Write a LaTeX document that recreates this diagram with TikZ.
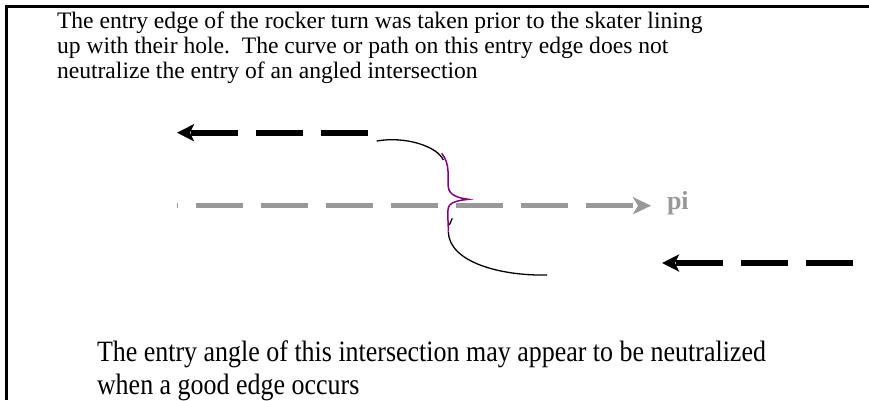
\documentclass[tikz,border=0pt]{standalone}
\usepackage{fontspec}
\setmainfont{Liberation Serif}
\newfontfamily\tallserif[FakeStretch=0.88]{Liberation Serif}
\usetikzlibrary{arrows.meta}
\definecolor{pigray}{HTML}{999999}
\definecolor{turnpurple}{HTML}{800080}

\begin{document}
\begin{tikzpicture}[x=1pt, y=-1pt,
  every node/.style={inner sep=0pt, outer sep=0pt},
  frame/.style={line width=3pt},
  edgearr/.style={line width=6pt, dash pattern=on 47pt off 18pt,
                  -{Stealth[length=17pt, width=17pt, inset=4pt]}},
  piarr/.style={line width=5pt, draw=pigray, dash pattern=on 47.5pt off 17.5pt,
                dash phase=46.5pt, -{Stealth[length=18pt, width=17pt, inset=5pt]}},
  trace/.style={line width=1.3pt},
  wiggle/.style={line width=1.5pt, draw=turnpurple},
  note/.style={align=left, font=\fontsize{23.6pt}{25pt}\selectfont},
  bignote/.style={align=left, font=\tallserif\fontsize{29.5pt}{33pt}\selectfont},
]
  \useasboundingbox (0,0) rectangle (869,400);
  % frame
  \draw[frame] (6.2,400) -- (6.2,6.2) -- (869,6.2);

  % texts
  \node[note, anchor=north west] (top) at (57,12)
    {The entry edge of the rocker turn was taken prior to the skater lining\\
     up with their hole.\ \ The curve or path on this entry edge does not\\
     neutralize the entry of an angled intersection};
  \node[bignote, anchor=north west] (bottom) at (97,341)
    {The entry angle of this intersection may appear to be neutralized\\
     when a good edge occurs};

  % edges
  \coordinate (e1s) at (368,132.7);
  \coordinate (e1t) at (177,132.7);
  \coordinate (e2s) at (853,263);
  \coordinate (e2t) at (662,263);
  \draw[edgearr] (e1s) -- (e1t);
  \draw[edgearr] (e2s) -- (e2t);

  % pi line
  \coordinate (pis) at (177,205.7);
  \coordinate (pit) at (651,205.7);
  \draw[piarr] (pis) -- (pit);
  \node[anchor=base west, text=pigray, font=\fontsize{26pt}{26pt}\selectfont\bfseries]
    (pi) at (667,209) {pi};

  % turn
  \coordinate (c1) at (376.7,141);
  \coordinate (c2) at (443.3,160);
  \coordinate (c3) at (448.3,231.7);
  \coordinate (c4) at (547,275);
  \draw[trace] (c1) .. controls (405,136) and (437,146) .. (c2);
  \draw[trace] (452.3,218.3) -- (449.3,225);
  \draw[trace] (c3) .. controls (449,262) and (500,276) .. (c4);
  \draw[wiggle] (441.7,153.3) .. controls (451,165) and (447,178) .. (448.3,187)
    .. controls (449,195) and (458,198) .. (468.3,199.3)
    .. controls (458,200.5) and (448,202) .. (448,210)
    .. controls (447.5,218) and (448.5,226) .. (c3);
\end{tikzpicture}
\end{document}
